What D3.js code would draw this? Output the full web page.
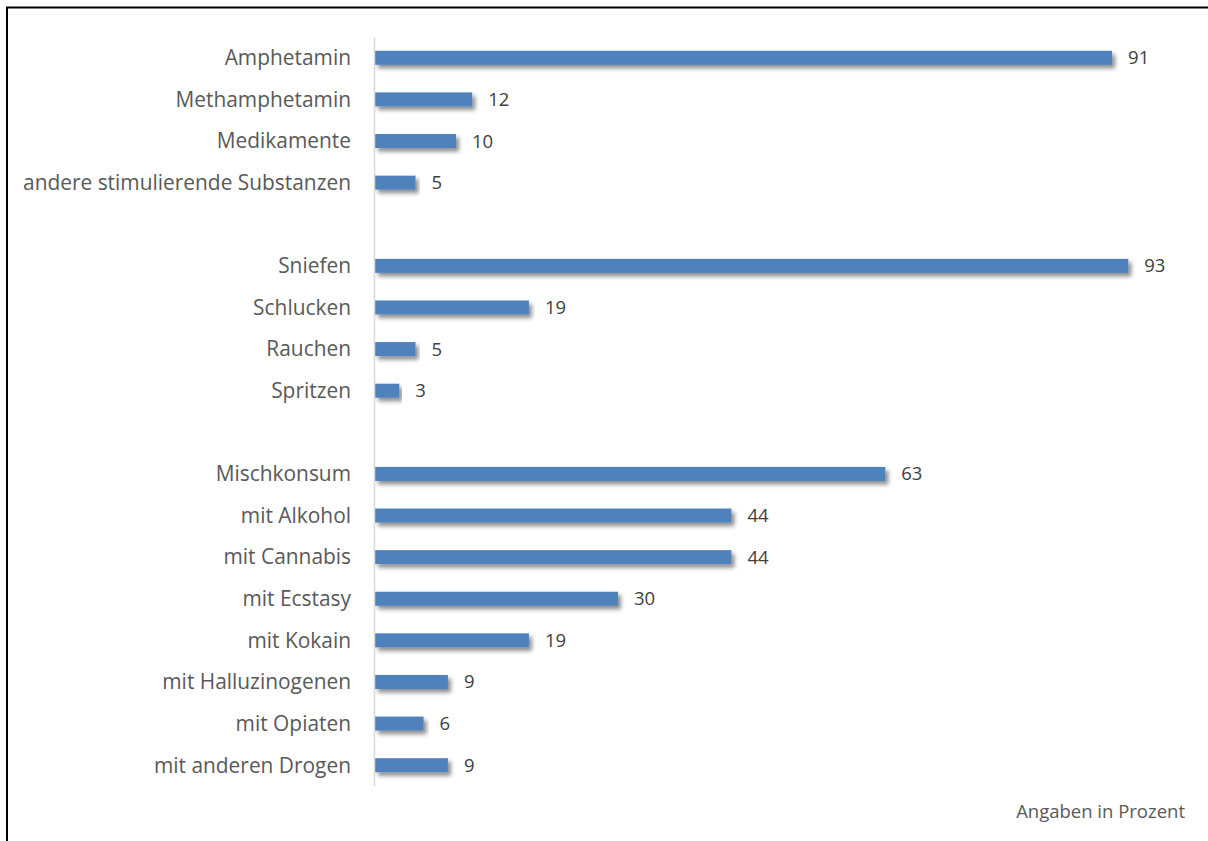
<!DOCTYPE html>
<html><head><meta charset="utf-8">
<script src="https://cdn.jsdelivr.net/npm/d3@7/dist/d3.min.js"></script>
<style>html,body{margin:0;padding:0;background:#fff;}svg{display:block;}</style>
</head><body>
<svg id="chart" width="1208" height="841"></svg>
<script>
const categories = ["Amphetamin","Methamphetamin","Medikamente","andere stimulierende Substanzen","__gap1",
  "Sniefen","Schlucken","Rauchen","Spritzen","__gap2",
  "Mischkonsum","mit Alkohol","mit Cannabis","mit Ecstasy","mit Kokain","mit Halluzinogenen","mit Opiaten","mit anderen Drogen"];
const values = [91,12,10,5,null,93,19,5,3,null,63,44,44,30,19,9,6,9];
const note = "Angaben in Prozent";

const FONT = "'Open Sans', sans-serif";
const svg = d3.select("#chart");
const defs = svg.append("defs");
const f = defs.append("filter").attr("id","sh").attr("x","-5%").attr("y","-50%").attr("width","115%").attr("height","250%");
f.append("feDropShadow").attr("dx",3).attr("dy",3.5).attr("stdDeviation",2).attr("flood-color","#000").attr("flood-opacity",0.45);

// frame
svg.append("path").attr("d","M7,841 L7,7.5 L1208,7.5").attr("fill","none").attr("stroke","#000").attr("stroke-width",2);

const x = d3.scaleLinear().domain([0,100]).range([375,1185]);
const y = d3.scaleBand().domain(categories).range([37,786]).paddingInner(0.66).paddingOuter(0.33);

const data = categories.map((c,i)=>({c, v: values[i]})).filter(d=>d.v!==null);

svg.append("g").selectAll("rect").data(data).join("rect")
  .attr("x",x(0)).attr("y",d=>y(d.c)+ (y.bandwidth()-14)/2 ).attr("width",d=>x(d.v)-x(0)).attr("height",14)
  .attr("fill","#4F81BD").attr("filter","url(#sh)");

// axis line
svg.append("line").attr("x1",374.5).attr("x2",374.5).attr("y1",37).attr("y2",786).attr("stroke","#d9d9d9").attr("stroke-width",1.5);

// category labels
svg.append("g").selectAll("text").data(data).join("text")
  .attr("x",351).attr("y",d=>y(d.c)+y.bandwidth()/2).attr("dy","0.35em")
  .attr("text-anchor","end").attr("font-family",FONT).attr("font-size",20.9)
  .attr("fill","#595959").text(d=>d.c);

// value labels
svg.append("g").selectAll("text").data(data).join("text")
  .attr("x",d=>x(d.v)+16).attr("y",d=>y(d.c)+y.bandwidth()/2).attr("dy","0.35em")
  .attr("font-family",FONT).attr("font-size",18.5)
  .attr("fill","#404040").text(d=>d.v);

svg.append("text").attr("x",1185).attr("y",818).attr("text-anchor","end")
  .attr("font-family",FONT).attr("font-size",18.5).attr("fill","#595959").text(note);
</script>
</body></html>
